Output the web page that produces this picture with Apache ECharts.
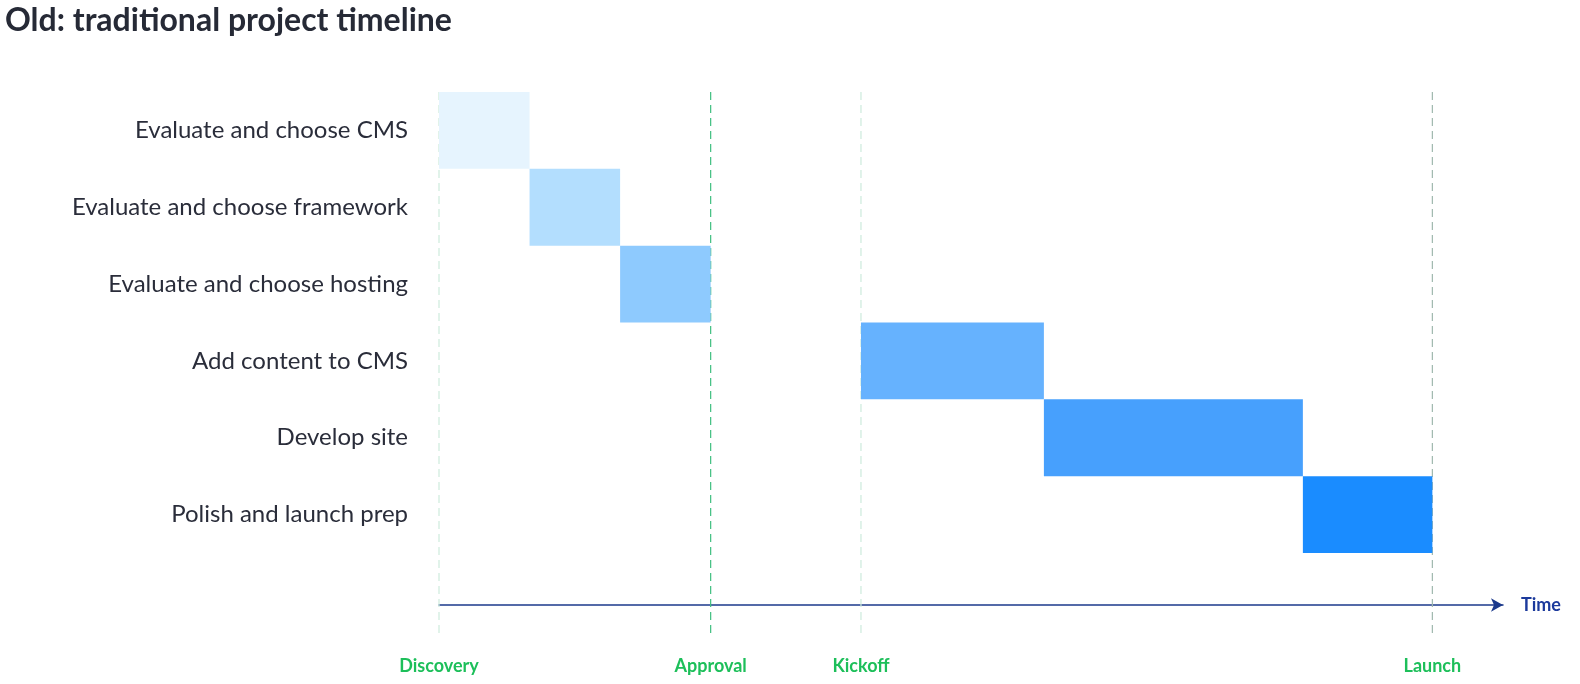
<!DOCTYPE html>
<html><head><meta charset="utf-8">
<script src="https://cdn.jsdelivr.net/npm/echarts@6/dist/echarts.min.js"></script>
<style>html,body{margin:0;padding:0;background:#fff}#c{width:1580px;height:684px}</style>
</head><body><div id="c"></div>
<script>
const tasks = ['Evaluate and choose CMS','Evaluate and choose framework','Evaluate and choose hosting','Add content to CMS','Develop site','Polish and launch prep'];
const starts = [0, 1, 2, 4.66, 6.68, 9.54];
const ends = [1, 2, 3, 6.68, 9.54, 10.97];
const taskColors = ['#e6f4fe','#b3defe','#8ecafe','#66b2fe','#47a0fd','#1a8cff'];
const milestones = ['Discovery','Approval','Kickoff','Launch'];
const milestoneAt = [0, 3, 4.66, 10.97];
const milestoneLine = ['#cdebdc','#3fbf7f','#cdebdc','#9fb8ae'];

const chart = echarts.init(document.getElementById('c'));
chart.setOption({
  animation:false,
  title:{text:'Old: traditional project timeline',left:0,top:0,textStyle:{fontFamily:'Lato',fontWeight:'bold',fontSize:32,color:'#262a36'}},
  grid:{left:439,right:77,top:92,bottom:131},
  xAxis:{type:'value',min:0,max:11.75,offset:52,splitLine:{show:false},axisTick:{show:false},axisLabel:{show:false},
    axisLine:{show:true,symbol:['none','arrow'],symbolSize:[10,12],lineStyle:{color:'#1c3a8c',width:1.5}},
    name:'Time',nameGap:18,nameTextStyle:{color:'#1c3a9c',fontFamily:'Lato',fontWeight:'bold',fontSize:18}},
  yAxis:{type:'category',data:tasks,inverse:true,axisLine:{show:false},axisTick:{show:false},splitLine:{show:false},
    axisLabel:{margin:31,color:'#2a2d3a',fontFamily:'Lato',fontSize:24}},
  series:[
    {type:'custom',clip:false,z:1,data:milestones.map((m,i)=>[milestoneAt[i],i]),
     renderItem:(params,api)=>{
       const x=api.coord([api.value(0),0])[0];const i=api.value(1);
       return {type:'group',children:[
         {type:'line',shape:{x1:x,y1:92,x2:x,y2:636},style:{stroke:milestoneLine[i],lineWidth:1.2,lineDash:[8,5]}},
         {type:'text',style:{x:x,y:666,text:milestones[i],align:'center',verticalAlign:'middle',fill:'#1dbf5a',font:'bold 18px Lato'}}
       ]};
     }},
    {type:'custom',z:2,data:tasks.map((t,i)=>[starts[i],ends[i],i]),
     renderItem:(params,api)=>{
       const i=api.value(2);
       const p0=api.coord([api.value(0),i]);const p1=api.coord([api.value(1),i]);
       const h=api.size([0,1])[1];
       return {type:'rect',shape:{x:p0[0],y:p0[1]-h/2,width:p1[0]-p0[0],height:h},style:{fill:taskColors[i]}};
     }}
  ]
});
</script></body></html>
